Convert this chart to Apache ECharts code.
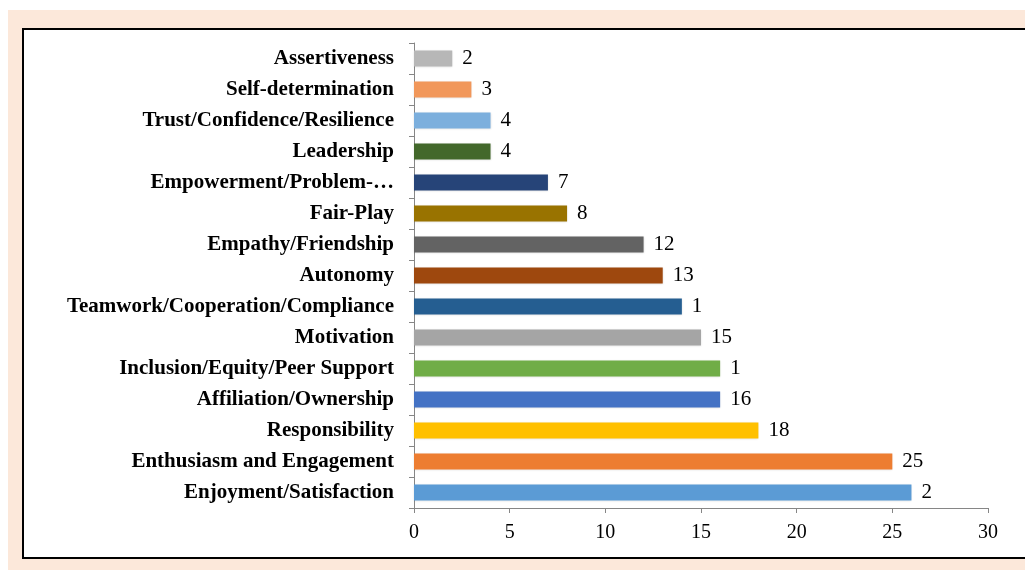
<!DOCTYPE html>
<html>
<head>
<meta charset="utf-8">
<script src="https://cdn.jsdelivr.net/npm/echarts@6/dist/echarts.min.js"></script>
<style>
html,body{margin:0;padding:0;width:1025px;height:570px;overflow:hidden;background:#ffffff;}
#peach{position:absolute;left:8px;top:10px;width:1030px;height:570px;background:#fce8da;}
#frame{position:absolute;left:22px;top:28px;width:1020px;height:527px;background:#ffffff;border:2px solid #000000;}
#chart{position:absolute;left:0;top:0;width:1025px;height:570px;}
</style>
</head>
<body>
<div id="peach"></div>
<div id="frame"></div>
<div id="chart"></div>
<script>
const categories = [
  "Assertiveness",
  "Self-determination",
  "Trust/Confidence/Resilience",
  "Leadership",
  "Empowerment/Problem-…",
  "Fair-Play",
  "Empathy/Friendship",
  "Autonomy",
  "Teamwork/Cooperation/Compliance",
  "Motivation",
  "Inclusion/Equity/Peer Support",
  "Affiliation/Ownership",
  "Responsibility",
  "Enthusiasm and Engagement",
  "Enjoyment/Satisfaction"
];
const values = [2, 3, 4, 4, 7, 8, 12, 13, 14, 15, 16, 16, 18, 25, 26];
const valueLabels = ["2", "3", "4", "4", "7", "8", "12", "13", "1", "15", "1", "16", "18", "25", "2"];
const barColors = ["#B7B7B7", "#F1975A", "#7CAFDD", "#43682B", "#264478", "#997300", "#636363", "#9E480E", "#255E91", "#A5A5A5", "#70AD47", "#4472C4", "#FFC000", "#ED7D31", "#5B9BD5"];
const xTicks = [0, 5, 10, 15, 20, 25, 30];

const chart = echarts.init(document.getElementById('chart'), null, {renderer: 'canvas'});
chart.setOption({
  backgroundColor: 'transparent',
  animation: false,
  grid: {left: 414, right: 37, top: 43, bottom: 62, containLabel: false},
  xAxis: {
    type: 'value',
    min: xTicks[0],
    max: xTicks[xTicks.length - 1],
    interval: xTicks[1] - xTicks[0],
    splitLine: {show: false},
    axisLine: {show: true, lineStyle: {color: '#868686', width: 1}},
    axisTick: {show: true, length: 5, lineStyle: {color: '#868686'}},
    axisLabel: {color: '#000000', fontFamily: 'Liberation Serif', fontSize: 20, margin: 15}
  },
  yAxis: {
    type: 'category',
    inverse: true,
    data: categories,
    axisLine: {show: true, lineStyle: {color: '#868686', width: 1}},
    axisTick: {show: true, length: 5, lineStyle: {color: '#868686'}},
    axisLabel: {color: '#000000', fontFamily: 'Liberation Serif', fontWeight: 'bold', fontSize: 21, margin: 20}
  },
  series: [{
    type: 'bar',
    barWidth: 16,
    data: values.map((v, i) => ({value: v, itemStyle: {color: barColors[i]}})),
    itemStyle: {shadowColor: 'rgba(0,0,0,0.12)', shadowBlur: 2},
    label: {
      show: true,
      position: 'right',
      distance: 10,
      color: '#000000',
      fontFamily: 'Liberation Serif',
      fontSize: 21,
      formatter: p => valueLabels[p.dataIndex]
    }
  }]
});
</script>
</body>
</html>
